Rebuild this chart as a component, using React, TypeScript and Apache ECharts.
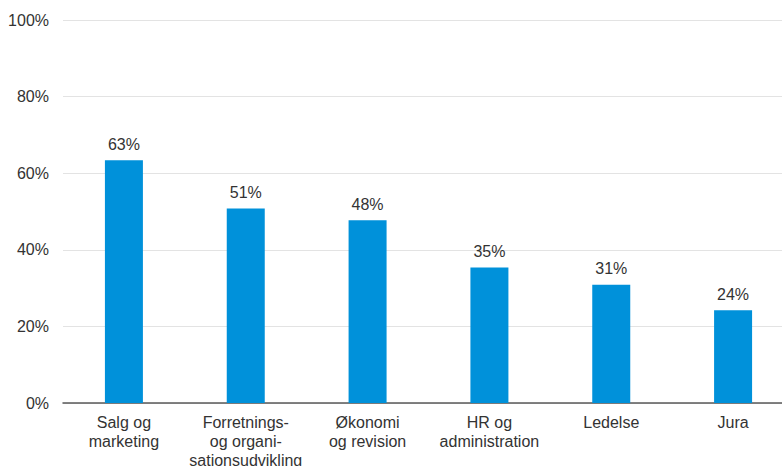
import React, { useEffect, useRef } from "react";
import * as echarts from "echarts";

const categories = [
  "Salg og\nmarketing",
  "Forretnings-\nog organi-\nsationsudvikling",
  "Økonomi\nog revision",
  "HR og\nadministration",
  "Ledelse",
  "Jura",
];
const values = [63.4, 50.8, 47.7, 35.4, 30.9, 24.2];
const yTicks = [0, 20, 40, 60, 80, 100];

export default function App() {
  const ref = useRef<HTMLDivElement>(null);
  useEffect(() => {
    if (!ref.current) return;
    const chart = echarts.init(ref.current, undefined, { renderer: "svg" });
    chart.setOption({
      animation: false,
      grid: { left: 63, right: 0, top: 20, bottom: 63, outerBoundsMode: "none", containLabel: false },
      xAxis: {
        type: "category",
        data: categories,
        axisTick: { show: false },
        axisLine: { lineStyle: { color: "#595959", width: 1.5 } },
        axisLabel: {
          color: "#333",
          fontFamily: "Liberation Sans, Arial, sans-serif",
          fontSize: 16,
          lineHeight: 19,
          margin: 10,
          interval: 0,
        },
      },
      yAxis: {
        type: "value",
        min: yTicks[0],
        max: yTicks[yTicks.length - 1],
        interval: 20,
        axisLabel: {
          formatter: "{value}%",
          color: "#333",
          fontFamily: "Liberation Sans, Arial, sans-serif",
          fontSize: 16,
          margin: 14,
        },
        splitLine: { lineStyle: { color: "#e3e3e3", width: 1 } },
        axisLine: { show: false },
        axisTick: { show: false },
      },
      series: [
        {
          type: "bar",
          data: values,
          barWidth: 38,
          itemStyle: { color: "#0091DA" },
          label: {
            show: true,
            position: "top",
            distance: 8,
            formatter: (p: any) => Math.round(p.value) + "%",
            color: "#333",
            fontFamily: "Liberation Sans, Arial, sans-serif",
            fontSize: 16,
          },
        },
      ],
    });
    return () => chart.dispose();
  }, []);
  return (
    <div style={{ position: "absolute", left: 0, top: 0, width: 782, height: 466, overflow: "hidden" }}>
      <div ref={ref} style={{ width: 794, height: 466 }} />
    </div>
  );
}
